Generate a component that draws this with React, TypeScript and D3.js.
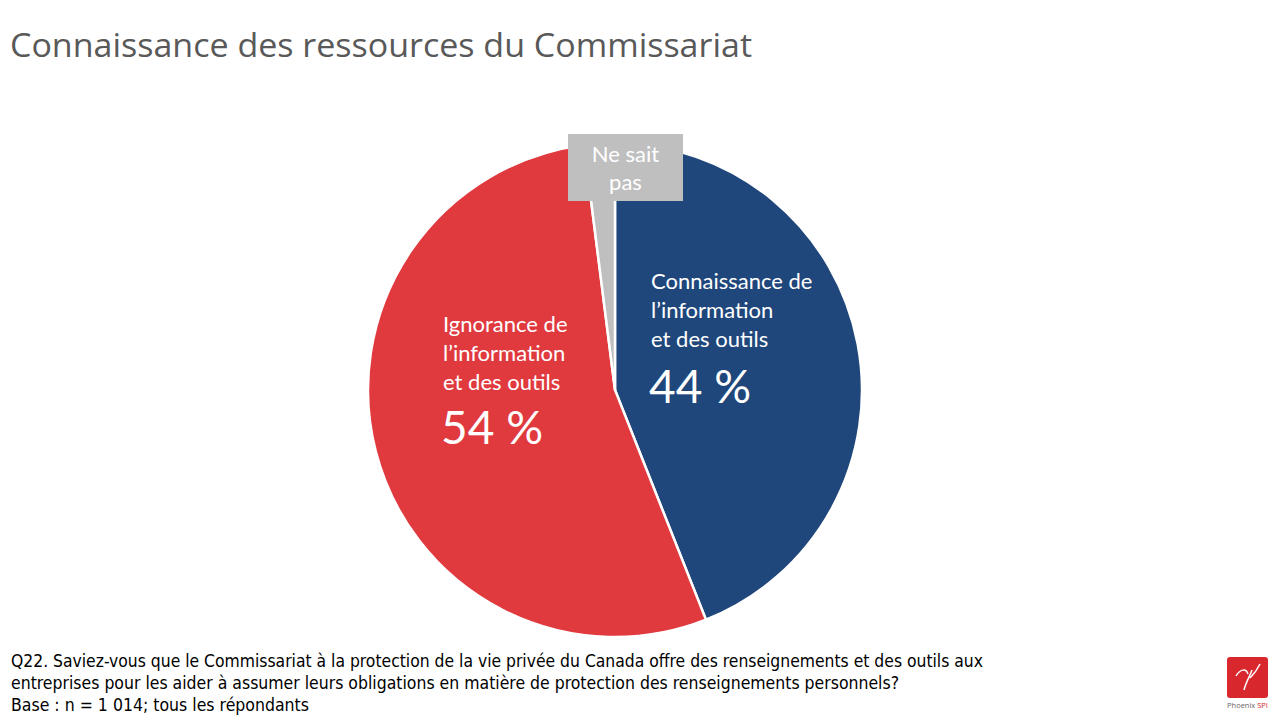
import React from "react";
import * as d3 from "d3";

const categories = ["Connaissance", "Ignorance", "Ne sait pas"];
const values = [44, 54, 2];
const colors = ["#1F477B", "#E03A3F", "#BFBFBF"];
const blueLabel = ["Connaissance de", "l\u2019information", "et des outils"];
const redLabel = ["Ignorance de", "l\u2019information", "et des outils"];
const dkLabel = ["Ne sait", "pas"];
const footLines = [
  "Q22. Saviez-vous que le Commissariat à la protection de la vie privée du Canada offre des renseignements et des outils aux",
  "entreprises pour les aider à assumer leurs obligations en matière de protection des renseignements personnels?",
  "Base : n = 1 014; tous les répondants",
];

export default function App() {
  const W = 1280, H = 720;
  const cx = 615, cy = 390, r = 247;
  const pie = d3.pie<number>().sort(null).value((d) => d)(values);
  const arc = d3.arc<d3.PieArcDatum<number>>().innerRadius(0).outerRadius(r);
  const labelFont = "Lato, 'Open Sans', sans-serif";
  const narrow = "'Liberation Sans Narrow', 'DejaVu Sans Condensed', 'Roboto Condensed', sans-serif";
  return (
    <svg width={W} height={H} style={{ position: "absolute", left: 0, top: 0, background: "#fff" }}>
      <text x={10} y={57} fontFamily="'Open Sans', sans-serif" fontSize={33} fill="#595959" textLength={742} lengthAdjust="spacingAndGlyphs">
        Connaissance des ressources du Commissariat
      </text>
      <g transform={`translate(${cx},${cy})`}>
        {pie.map((p, i) => (
          <path key={categories[i]} d={arc(p) || ""} fill={colors[i]} stroke="#fff" strokeWidth={2.5} />
        ))}
      </g>
      {/* Ne sait pas callout */}
      <rect x={568} y={134} width={115} height={67} fill="#BFBFBF" />
      {dkLabel.map((t, i) => (
        <text key={i} x={625.5} y={162 + i * 28} textAnchor="middle" fontFamily={labelFont} fontSize={22} fill="#fff">{t}</text>
      ))}
      {/* Blue label */}
      {blueLabel.map((t, i) => (
        <text key={i} x={651} y={289 + i * 29} fontFamily={labelFont} fontSize={22} fill="#fff">{t}</text>
      ))}
      <text x={649} y={403} fontFamily={labelFont} fontSize={46} fill="#fff">{values[0]} %</text>
      {/* Red label */}
      {redLabel.map((t, i) => (
        <text key={i} x={443} y={332 + i * 29} fontFamily={labelFont} fontSize={22} fill="#fff">{t}</text>
      ))}
      <text x={441} y={444} fontFamily={labelFont} fontSize={46} fill="#fff">{values[1]} %</text>
      {/* Footnote */}
      {footLines.map((t, i) => (
        <text key={i} x={11} y={667 + i * 22} fontFamily={narrow} fontSize={17} fill="#000"
          textLength={i === 0 ? 972 : i === 1 ? 888 : 298} lengthAdjust="spacingAndGlyphs">{t}</text>
      ))}
      {/* Logo */}
      <rect x={1227} y={657} width={41} height={41} rx={3} fill="#D9272E" />
      <path d="M1236,676 C1240,669 1246,668 1248,674 M1244,690 C1246,682 1250,676 1252,670 M1250,678 C1254,674 1257,670 1260,664" stroke="#fff" strokeWidth={1.5} fill="none" />
      <text x={1247.5} y={708} textAnchor="middle" fontFamily="'Open Sans', sans-serif" fontSize={7.5} fill="#666">
        Phoenix <tspan fill="#D9272E">SPI</tspan>
      </text>
    </svg>
  );
}
